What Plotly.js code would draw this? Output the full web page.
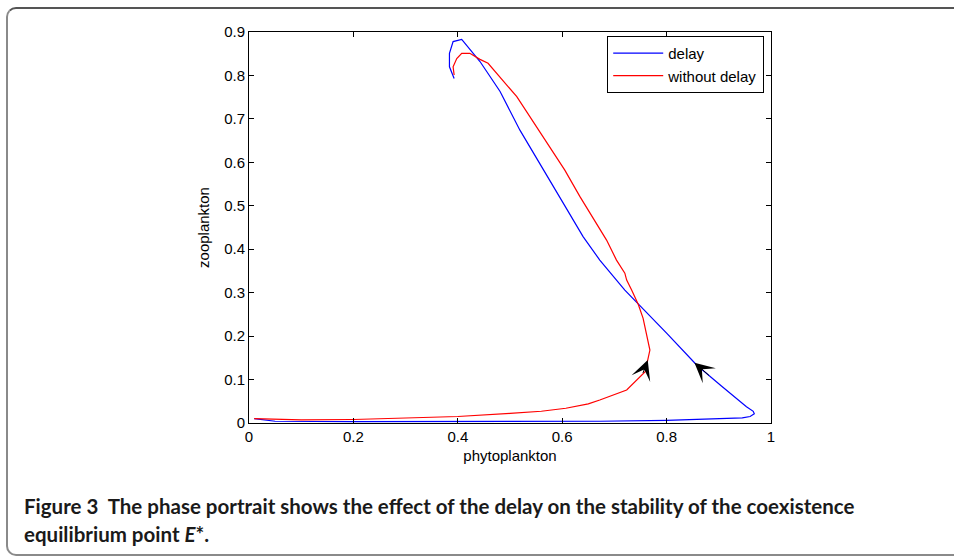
<!DOCTYPE html>
<html>
<head>
<meta charset="utf-8">
<script src="https://cdn.plot.ly/plotly-3.0.1.min.js"></script>
<style>
  html, body { margin: 0; padding: 0; background: #ffffff; }
  #wrap { position: relative; width: 954px; height: 556px; overflow: hidden; }
  #chart { position: absolute; left: 0; top: 0; width: 954px; height: 556px; }
  #frame { position: absolute; left: 6px; top: 7px; width: 1000px; height: 545px;
           border-top: 2px solid #555; border-left: 2px solid #8a8a8a; border-bottom: 2px solid #8a8a8a;
           border-radius: 10px; pointer-events: none; }
</style>
</head>
<body>
<div id="wrap">
  <div id="chart"></div>
  <div id="frame"></div>
</div>
<script>
// ---- data ----
const delayX = [0.01, 0.05, 0.2, 0.4, 0.6, 0.672, 0.80, 0.864, 0.92, 0.945, 0.960, 0.968, 0.966, 0.953, 0.905, 0.858, 0.80, 0.743, 0.72, 0.672, 0.640, 0.600, 0.557, 0.519, 0.481, 0.4425, 0.4075, 0.391, 0.384, 0.384, 0.393];
const delayY = [0.010, 0.004, 0.003, 0.003, 0.003, 0.004, 0.006, 0.0085, 0.010, 0.012, 0.015, 0.021, 0.027, 0.0375, 0.085, 0.133, 0.207, 0.279, 0.306, 0.375, 0.429, 0.51, 0.598, 0.674, 0.763, 0.832, 0.883, 0.878, 0.851, 0.82, 0.793];

const noDelayX = [0.01, 0.1, 0.2, 0.3, 0.4, 0.5, 0.56, 0.607, 0.65, 0.672, 0.70, 0.7235, 0.759, 0.768, 0.755, 0.746, 0.733, 0.7235, 0.720, 0.704, 0.685, 0.634, 0.605, 0.580, 0.545, 0.513, 0.458, 0.4425, 0.423, 0.4075, 0.398, 0.391, 0.393];
const noDelayY = [0.010, 0.007, 0.008, 0.011, 0.015, 0.022, 0.027, 0.034, 0.044, 0.053, 0.065, 0.076, 0.118, 0.168, 0.241, 0.272, 0.306, 0.329, 0.345, 0.375, 0.421, 0.521, 0.582, 0.628, 0.695, 0.751, 0.828, 0.837, 0.851, 0.851, 0.839, 0.82, 0.801];

const seriesNames = ["delay", "without delay"];
const xTitle = "phytoplankton";
const yTitle = "zooplankton";
const captionLine1 = "<b>Figure 3&nbsp;&nbsp;The phase portrait shows the effect of the delay on the stability of the coexistence</b>";
const captionLine2 = "<b>equilibrium point <i>E</i>*.</b>";

// arrow placement: tip = fraction along a segment, tail = fraction along an earlier segment
const delayArrow = {seg: 15, frac: 0.08, tail: 14, tailFrac: 0.45};
const noDelayArrow = {seg: 12, frac: 0.54, tail: 11, tailFrac: 0.85};

function along(xs, ys, i, f) {
  return [xs[i] + (xs[i + 1] - xs[i]) * f, ys[i] + (ys[i + 1] - ys[i]) * f];
}

const tipB = along(delayX, delayY, delayArrow.seg, delayArrow.frac);
const tailB = along(delayX, delayY, delayArrow.tail, delayArrow.tailFrac);
const tipR = along(noDelayX, noDelayY, noDelayArrow.seg, noDelayArrow.frac);
const tailR = along(noDelayX, noDelayY, noDelayArrow.tail, noDelayArrow.tailFrac);

const FONT = "Liberation Sans, Arial, Helvetica, sans-serif";
const CAPFONT = "Lato, Noto Sans, sans-serif";

const traces = [
  {x: delayX, y: delayY, mode: "lines", name: seriesNames[0], line: {color: "#0000ff", width: 1.2}},
  {x: noDelayX, y: noDelayY, mode: "lines", name: seriesNames[1], line: {color: "#ff0000", width: 1.2}}
];

function arrow(tip, tail) {
  return {x: tip[0], y: tip[1], ax: tail[0], ay: tail[1], xref: "x", yref: "y", axref: "x", ayref: "y",
          showarrow: true, arrowhead: 3, arrowsize: 3.3, arrowwidth: 1, arrowcolor: "#000000", standoff: 0, text: ""};
}

const layout = {
  width: 954, height: 556,
  margin: {l: 249, r: 183, t: 32, b: 133},
  paper_bgcolor: "#ffffff", plot_bgcolor: "#ffffff",
  font: {family: FONT, size: 15, color: "#000000"},
  showlegend: true,
  legend: {x: 0.987, y: 0.99, xanchor: "right", yanchor: "top", bgcolor: "#ffffff",
           bordercolor: "#000000", borderwidth: 1, font: {family: FONT, size: 15}, itemwidth: 50,
           tracegroupgap: 0},
  xaxis: {range: [0, 1], dtick: 0.2, tick0: 0, ticks: "inside", ticklen: 5, tickcolor: "#000",
          showline: true, linecolor: "#000", linewidth: 1, mirror: "ticks", showgrid: false, zeroline: false,
          title: {text: xTitle, font: {family: FONT, size: 15}, standoff: 6}, tickfont: {family: FONT, size: 15}},
  yaxis: {range: [0, 0.9], dtick: 0.1, tick0: 0, ticks: "inside", ticklen: 5, tickcolor: "#000",
          showline: true, linecolor: "#000", linewidth: 1, mirror: "ticks", showgrid: false, zeroline: false,
          title: {text: yTitle, font: {family: FONT, size: 15}, standoff: 10}, tickfont: {family: FONT, size: 15}},
  annotations: [
    arrow(tipB, tailB),
    arrow(tipR, tailR),
    {xref: "paper", yref: "paper", x: -0.4349, y: -0.177, xanchor: "left", yanchor: "top", showarrow: false,
     align: "left", text: captionLine1, font: {family: CAPFONT, size: 20.5, color: "#1a1a1a"}},
    {xref: "paper", yref: "paper", x: -0.4349, y: -0.249, xanchor: "left", yanchor: "top", showarrow: false,
     align: "left", text: captionLine2, font: {family: CAPFONT, size: 20.5, color: "#1a1a1a"}}
  ]
};

Plotly.newPlot("chart", traces, layout, {displayModeBar: false, staticPlot: true});
</script>
</body>
</html>
